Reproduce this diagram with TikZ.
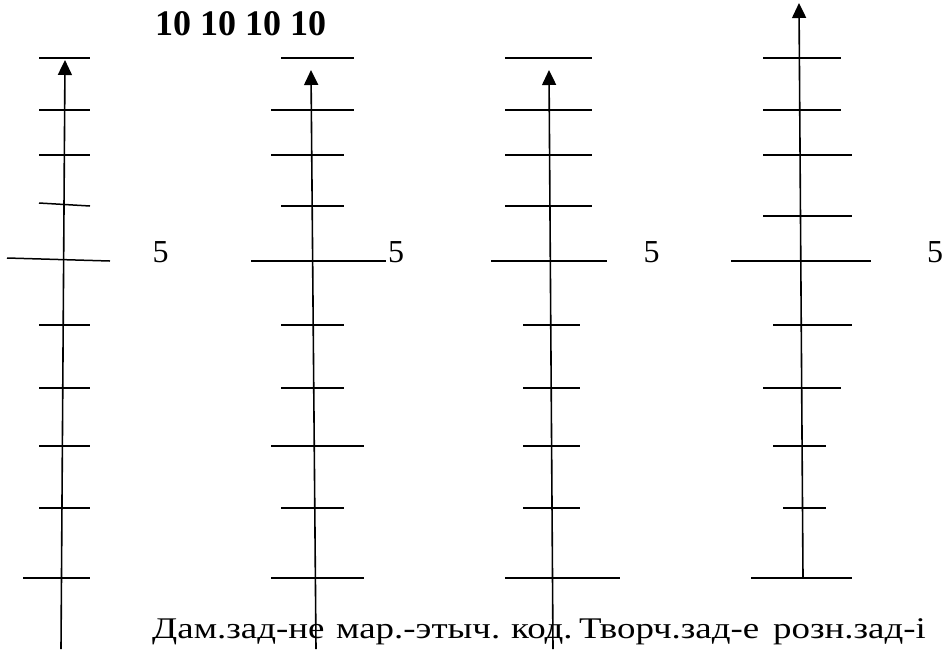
\documentclass[tikz,border=0pt]{standalone}
\usepackage{fontspec}
\setmainfont{Liberation Serif}
\usetikzlibrary{arrows.meta}
\newcommand{\wide}[1]{\scalebox{1.23}[1]{#1}}
\tikzset{
  axisline/.style={line width=1.6pt, -{Triangle[length=15pt,width=14pt]}},
  tick/.style={line width=1.5pt},
  lbl/.style={inner sep=0pt, anchor=base, font=\fontsize{32}{36}\selectfont},
  title/.style={inner sep=0pt, anchor=base west, font=\fontsize{36}{42}\selectfont\bfseries},
  caption/.style={inner sep=0pt, anchor=base west, font=\fontsize{30}{36}\selectfont}
}
\begin{document}
\begin{tikzpicture}[x=1pt,y=-1pt]
\useasboundingbox (0,0) rectangle (944,649);
% axis end points
\coordinate (a1b) at (61,649); \coordinate (a1t) at (65,60);
\coordinate (a2b) at (316,649); \coordinate (a2t) at (311,70);
\coordinate (a3b) at (553,649); \coordinate (a3t) at (549,70);
\coordinate (a4b) at (803,578); \coordinate (a4t) at (799,3);
% ticks axis 1
\draw[tick] (39,58) -- (90,58);
\draw[tick] (39,110) -- (90,110);
\draw[tick] (39,155) -- (90,155);
\draw[tick] (39,203) -- (90,206);
\draw[tick] (7,258) -- (110,261);
\draw[tick] (39,325) -- (90,325);
\draw[tick] (39,388) -- (90,388);
\draw[tick] (39,446) -- (90,446);
\draw[tick] (39,508) -- (90,508);
\draw[tick] (23,578) -- (90,578);
% ticks axis 2
\draw[tick] (281,58) -- (354,58);
\draw[tick] (271,110) -- (354,110);
\draw[tick] (271,155) -- (344,155);
\draw[tick] (281,206) -- (344,206);
\draw[tick] (251,261) -- (386,261);
\draw[tick] (281,325) -- (344,325);
\draw[tick] (281,388) -- (344,388);
\draw[tick] (271,446) -- (364,446);
\draw[tick] (281,508) -- (344,508);
\draw[tick] (271,578) -- (364,578);
% ticks axis 3
\draw[tick] (505,58) -- (592,58);
\draw[tick] (505,110) -- (592,110);
\draw[tick] (505,155) -- (592,155);
\draw[tick] (505,206) -- (592,206);
\draw[tick] (491,261) -- (607,261);
\draw[tick] (523,325) -- (580,325);
\draw[tick] (523,388) -- (580,388);
\draw[tick] (523,446) -- (580,446);
\draw[tick] (523,508) -- (580,508);
\draw[tick] (505,578) -- (620,578);
% ticks axis 4
\draw[tick] (763,58) -- (841,58);
\draw[tick] (763,110) -- (841,110);
\draw[tick] (763,155) -- (852,155);
\draw[tick] (763,216) -- (852,216);
\draw[tick] (731,261) -- (871,261);
\draw[tick] (773,325) -- (852,325);
\draw[tick] (763,388) -- (841,388);
\draw[tick] (773,446) -- (826,446);
\draw[tick] (783,508) -- (826,508);
\draw[tick] (751,578) -- (852,578);
% axes
\draw[axisline] (a1b) -- (a1t);
\draw[axisline] (a2b) -- (a2t);
\draw[axisline] (a3b) -- (a3t);
\draw[axisline] (a4b) -- (a4t);
% labels
\node[title] (ttl) at (155,35) {10 10 10 10};
\node[lbl] (f1) at (160.5,262) {5};
\node[lbl] (f2) at (396,262) {5};
\node[lbl] (f3) at (651.5,262) {5};
\node[lbl] (f4) at (935,262) {5};
\node[caption] (w1) at (152,638) {\wide{Дам.зад-не}};
\node[caption] (w2) at (336,638) {\wide{мар.-этыч.}};
\node[caption] (w3) at (511,638) {\wide{код.}};
\node[caption] (w4) at (579,638) {\wide{Творч.зад-е}};
\node[caption] (w5) at (773,638) {\wide{розн.зад-і}};
\end{tikzpicture}
\end{document}
